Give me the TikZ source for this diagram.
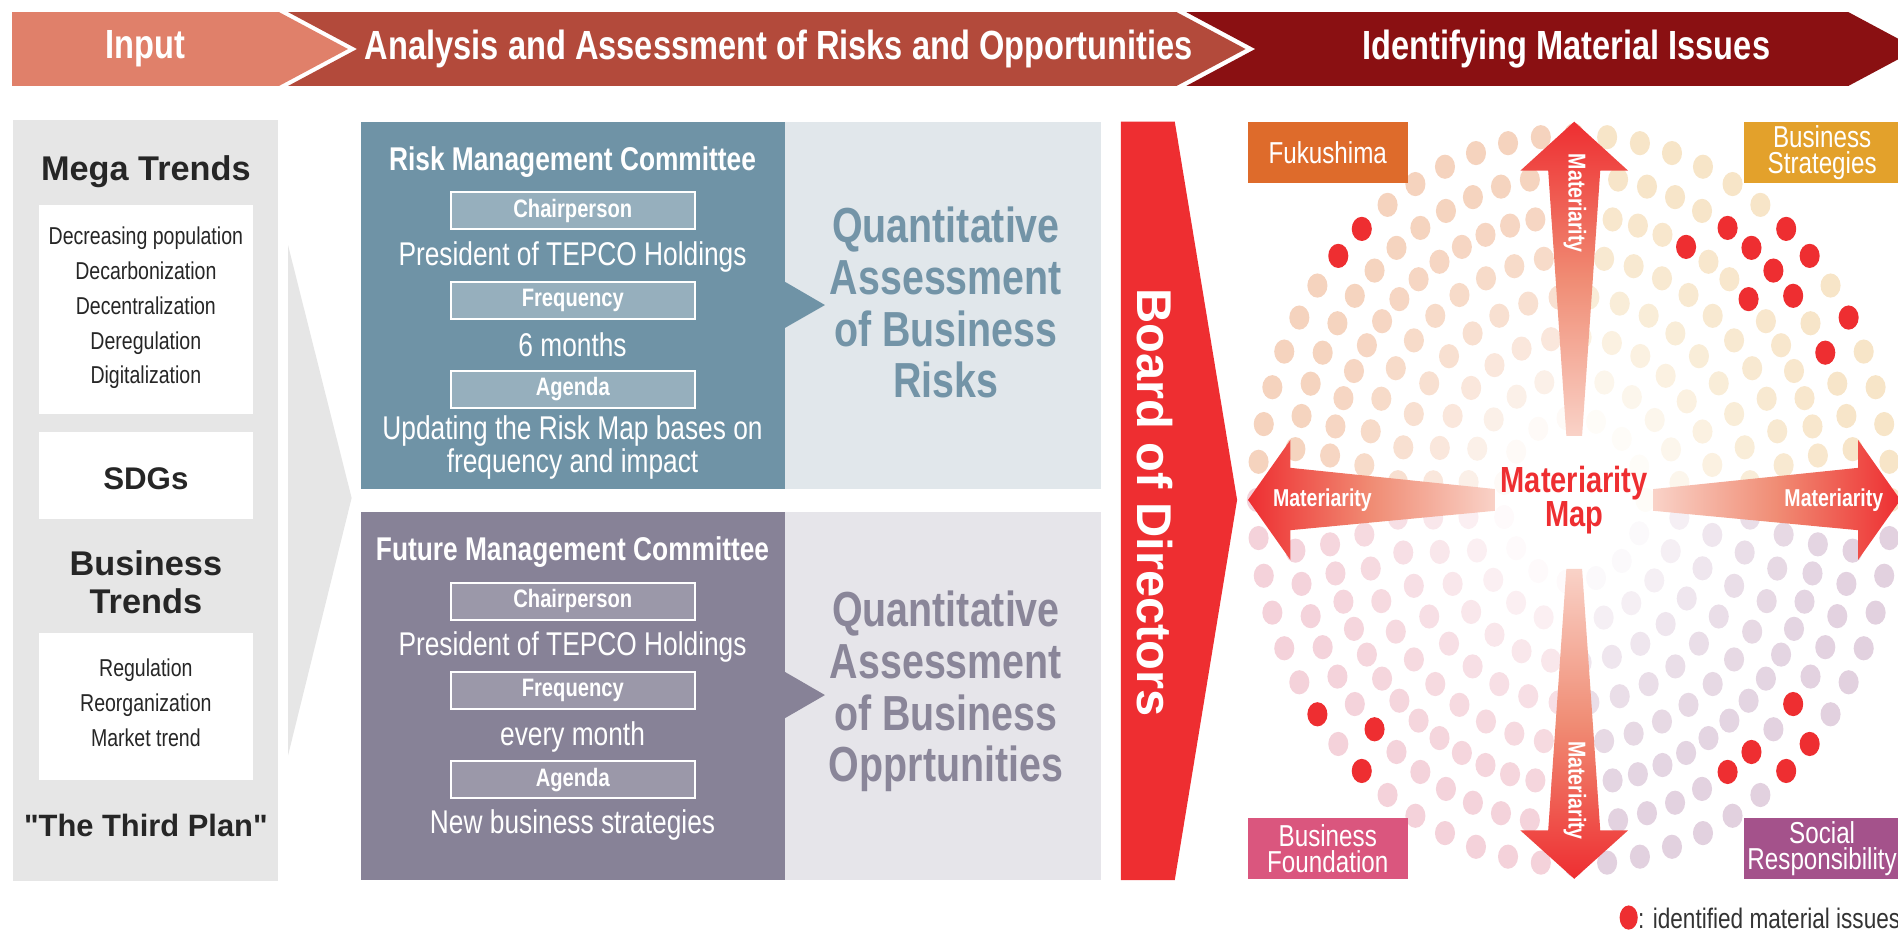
\documentclass[tikz,border=0pt]{standalone}
\usepackage{fontspec}
\setmainfont{Liberation Sans}
\newfontfamily\condfont[FakeStretch=0.8]{Liberation Sans}
\newcommand{\fs}[2]{\fontsize{#1}{#2}\selectfont}

\definecolor{inputhd}{HTML}{E0806A}
\definecolor{analysishd}{HTML}{B34A3B}
\definecolor{identhd}{HTML}{8A1012}
\definecolor{panelgrey}{HTML}{E6E6E6}
\definecolor{riskdark}{HTML}{6F93A6}
\definecolor{risklight}{HTML}{E1E7EB}
\definecolor{risklabel}{HTML}{96AFBD}
\definecolor{risktext}{HTML}{7394A7}
\definecolor{futdark}{HTML}{878297}
\definecolor{futlight}{HTML}{E6E5EA}
\definecolor{futlabel}{HTML}{9B98A9}
\definecolor{futtext}{HTML}{8A8699}
\definecolor{boardred}{HTML}{EE2E31}
\definecolor{fukushima}{HTML}{DE6B2B}
\definecolor{strategy}{HTML}{E3A12B}
\definecolor{foundation}{HTML}{DA567E}
\definecolor{social}{HTML}{A4528B}
\definecolor{dotpeach}{HTML}{F5D3BE}
\definecolor{dotcream}{HTML}{F7E5C8}
\definecolor{dotpink}{HTML}{F4D2DA}
\definecolor{dotlilac}{HTML}{E2D1DF}
\definecolor{arrowsalmon}{HTML}{F08C74}
\definecolor{arrowpale}{HTML}{FBE0D8}
\definecolor{legendgrey}{HTML}{333333}

\pgfdeclareverticalshading{matfade}{100bp}{color(0bp)=(white); color(20bp)=(arrowpale); color(50bp)=(arrowsalmon); color(75bp)=(boardred); color(100bp)=(boardred)}

\def\markred#1{\expandafter\gdef\csname reddot@#1\endcsname{}}
\foreach \p in {0-22,0-23,0-8,0-7,0-5,0-36,0-38,0-53,0-52,1-9,1-8,1-7,1-6,1-4,1-37,1-53,1-51,1-50,2-10,2-7}{\markred{\p}}

\begin{document}
\begin{tikzpicture}[x=0.6pt,y=-0.6pt,
  hdtext/.style={text=white,font=\condfont\bfseries\fs{20.2}{24}},
  bigbold/.style={font=\bfseries\fs{17}{18.7},align=center,text=black!85},
  trendlist/.style={font=\condfont\fs{12.1}{17.2},align=center,text=black!85},
  cmtitle/.style={text=white,font=\condfont\bfseries\fs{16.3}{19}},
  tagbox/.style={draw=white,line width=0.9pt,minimum width=121pt,minimum height=18.3pt,inner sep=0pt,text=white,font=\condfont\bfseries\fs{12.5}{14}},
  cmtext/.style={text=white,align=center,font=\condfont\fs{16.3}{14.1}},
  quanttext/.style={align=center,font=\condfont\bfseries\fs{24.4}{25.6}},
  cornerbox/.style={minimum height=30.6pt,inner sep=0pt,text=white,align=center,font=\condfont\fs{15}{13.2}},
  matlabel/.style={text=white,font=\condfont\bfseries\fs{12.1}{14}}]
\useasboundingbox (0,0) rectangle (1568,773);

\fill[inputhd] (10,10) -- (230.5,10) -- (287.5,40.5) -- (230.5,71) -- (10,71) -- cycle;
\fill[analysishd] (238,10) -- (972,10) -- (1029,40.5) -- (972,71) -- (238,71) -- (295,40.5) -- cycle;
\fill[identhd] (980,10) -- (1527,10) -- (1584,40.5) -- (1527,71) -- (980,71) -- (1037,40.5) -- cycle;
\node[hdtext] (hdinput) at (120,40.5) {Input};
\node[hdtext] (hdanalysis) at (643.5,40.5) {Analysis and Assessment of Risks and Opportunities};
\node[hdtext] (hdident) at (1294,40.5) {Identifying Material Issues};

\fill[panelgrey] (11,99.5) rectangle (230,727.5);
\fill[panelgrey] (238,202.6) -- (290.5,411.4) -- (238,624) -- cycle;
\fill[white] (32.5,169) rectangle (208.7,342);
\fill[white] (32.5,356.5) rectangle (208.7,429);
\fill[white] (32.5,523) rectangle (208.7,644);
\node[bigbold] (mega) at (120.5,141.6) {Mega Trends};
\node[trendlist] (megalist) at (120.5,254.5) {Decreasing population\\Decarbonization\\Decentralization\\Deregulation\\Digitalization};
\node[bigbold,font=\bfseries\fs{15.5}{17}] (sdgs) at (120.5,395.4) {SDGs};
\node[bigbold] (business) at (120.5,481) {Business\\Trends};
\node[trendlist] (businesslist) at (120.5,580.7) {Regulation\\Reorganization\\Market trend};
\node[bigbold,font=\bfseries\fs{15.3}{17}] (thirdplan) at (120.5,682) {\textquotedbl The Third Plan\textquotedbl};

\fill[riskdark] (298,100.5) rectangle (648.3,404);
\fill[risklight] (648.3,100.5) rectangle (909.6,404);
\fill[riskdark] (648.3,232.7) -- (681.5,252) -- (648.3,271) -- cycle;
\node[cmtitle] (risktitle) at (473,133.6) {Risk Management Committee};
\node[tagbox,fill=risklabel] (riskchairtag) at (473.2,174.2) {Chairperson};
\node[cmtext] (riskchair) at (473,212) {President of TEPCO Holdings};
\node[tagbox,fill=risklabel] (riskfreqtag) at (473.2,248.1) {Frequency};
\node[cmtext] (riskfreq) at (473,285) {6 months};
\node[tagbox,fill=risklabel] (riskagendatag) at (473.2,321.7) {Agenda};
\node[cmtext] (riskagenda) at (473,369.6) {Updating the Risk Map bases on\\frequency and impact};
\node[quanttext,text=risktext] (riskq) at (781.5,250) {Quantitative\\Assessment\\of Business\\Risks};

\fill[futdark] (298,422.7) rectangle (648.3,727);
\fill[futlight] (648.3,422.7) rectangle (909.6,727);
\fill[futdark] (648.3,555) -- (681.5,574.2) -- (648.3,593.4) -- cycle;
\node[cmtitle] (futtitle) at (473,455.7) {Future Management Committee};
\node[tagbox,fill=futlabel] (futchairtag) at (473.2,496.8) {Chairperson};
\node[cmtext] (futchair) at (473,534.2) {President of TEPCO Holdings};
\node[tagbox,fill=futlabel] (futfreqtag) at (473.2,570.5) {Frequency};
\node[cmtext] (futfreq) at (473,608.6) {every month};
\node[tagbox,fill=futlabel] (futagendatag) at (473.2,644.1) {Agenda};
\node[cmtext] (futagenda) at (473,681.5) {New business strategies};
\node[quanttext,text=futtext] (futq) at (781.5,571.3) {Quantitative\\Assessment\\of Business\\Opprtunities};

\fill[boardred] (926,100.5) -- (970.5,100.5) -- (1022,413) -- (970.5,727) -- (926,727) -- cycle;
\node[rotate=-90,text=white,font=\bfseries\fs{24.2}{26}] (board) at (954,415) {Board of Directors};

\foreach \k/\cnt/\ph in {0/60/0,1/60/3,2/60/3,3/44/0,4/36/5,5/29/0,6/22/8,7/15/0}{
  \pgfmathsetmacro\rad{262-29*\k}
  \pgfmathsetmacro\stp{360/\cnt}
  \pgfmathtruncatemacro\nn{\cnt-1}
  \foreach \j in {0,...,\nn}{
    \pgfmathsetmacro\ang{mod(\ph+\j*\stp,360)}
    \pgfmathtruncatemacro\qd{floor(\ang/90)}
    \pgfmathtruncatemacro\pct{max(12,100-1.8*\k*\k)}
    \ifcase\qd \def\dotcol{dotcream}\or \def\dotcol{dotpeach}\or \def\dotcol{dotpink}\else \def\dotcol{dotlilac}\fi
    \ifcsname reddot@\k-\j\endcsname \def\dotcol{boardred}\def\pct{100}\fi
    \fill[\dotcol!\pct!white] ({1300.3+\rad*cos(\ang)},{413-1.15*\rad*sin(\ang)}) ellipse[x radius=8.3,y radius=10];
  }
}

\shade[shading=matfade] (1300.5,100.5) -- (1345,141) -- (1322,141) -- (1307,360) -- (1294,360) -- (1279,141) -- (1256,141) -- cycle;
\shade[shading=matfade,shading angle=180] (1300.5,726) -- (1345,686) -- (1322,686) -- (1307,470) -- (1294,470) -- (1279,686) -- (1256,686) -- cycle;
\shade[shading=matfade,shading angle=90] (1031,413) -- (1066,363.5) -- (1066,386.5) -- (1235,404) -- (1235,422) -- (1066,438) -- (1066,462.5) -- cycle;
\shade[shading=matfade,shading angle=-90] (1570,413) -- (1535,363.5) -- (1535,386.5) -- (1366,404) -- (1366,422) -- (1535,438) -- (1535,462.5) -- cycle;
\node[matlabel,rotate=-90] (matup) at (1301,168) {Materiarity};
\node[matlabel,rotate=-90] (matdown) at (1301,653) {Materiarity};
\node[matlabel] (matleft) at (1092.5,413) {Materiarity};
\node[matlabel] (matright) at (1515,413) {Materiarity};
\node[align=center,text=boardred,font=\condfont\bfseries\fs{18}{15}] (matmap) at (1300.5,413) {Materiarity\\Map};

\node[cornerbox,fill=fukushima,minimum width=79.4pt] (fuku) at (1096.9,126) {Fukushima};
\node[cornerbox,fill=strategy,minimum width=77.6pt] (strat) at (1505.3,126) {Business\\Strategies};
\node[cornerbox,fill=foundation,minimum width=79.4pt] (found) at (1096.9,701) {Business\\Foundation};
\node[cornerbox,fill=social,minimum width=77.6pt] (socresp) at (1505.3,701) {Social\\Responsibility};

\fill[boardred] (1345.5,758) ellipse[x radius=7.5,y radius=10];
\node[anchor=west,inner sep=0pt,text=legendgrey,font=\condfont\fs{14}{16}] (legend) at (1353,759) {: identified material issues};
\end{tikzpicture}
\end{document}
